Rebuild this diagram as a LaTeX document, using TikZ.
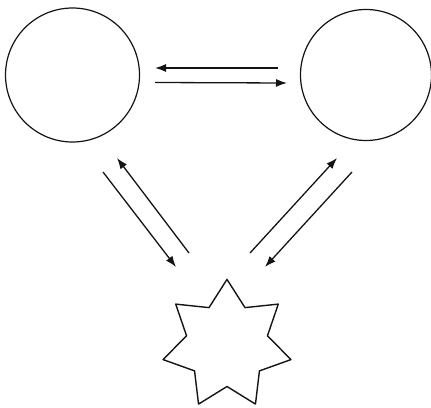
\documentclass[tikz,border=0pt]{standalone}
\usepackage{tikz}
\usetikzlibrary{arrows.meta,positioning,calc}
\definecolor{bdedge}{RGB}{20,20,20}
\tikzset{
  ring/.style={
    draw=bdedge, circle, line width=1.2pt, inner sep=0pt
  },
  burst/.style={draw=bdedge, line width=1.4pt},
  arr/.style={-{Latex[length=11pt,width=8pt]}, draw=bdedge, line width=1.3pt},
  every picture/.append style={line join=round}
}
\begin{document}
\begin{tikzpicture}[x=1pt, y=-1pt]
  \useasboundingbox (0,0) rectangle (431,407);
  \node[ring, minimum size=134pt] (ringL) at (72.5,75) {};
  \node[ring, minimum size=131pt] (ringR) at (366,75) {};
  \coordinate (core) at (227,345);
  % seven-pointed star round core
  \draw[burst] ($(core)+(-90:65.6)$)
    \foreach \k in {1,...,13} {
      -- ($(core)+({-90+\k*180/7}:{isodd(\k) ? 41.5 : 65.6})$)
    } -- cycle;
  % ends of the arrows
  \coordinate (hA) at (278,68);   \coordinate (hB) at (155,68);
  \coordinate (hC) at (155,82.5); \coordinate (hD) at (287,83);
  \coordinate (lA) at (189,253);  \coordinate (lB) at (117,158);
  \coordinate (lC) at (103,172);  \coordinate (lD) at (176,267);
  \coordinate (rA) at (250,253);  \coordinate (rB) at (337,158);
  \coordinate (rC) at (352,172);  \coordinate (rD) at (265,267);
  \draw[arr] (hA) -- (hB);
  \draw[arr] (hC) -- (hD);
  \draw[arr] (lA) -- (lB);
  \draw[arr] (lC) -- (lD);
  \draw[arr] (rA) -- (rB);
  \draw[arr] (rC) -- (rD);
\end{tikzpicture}
\end{document}
